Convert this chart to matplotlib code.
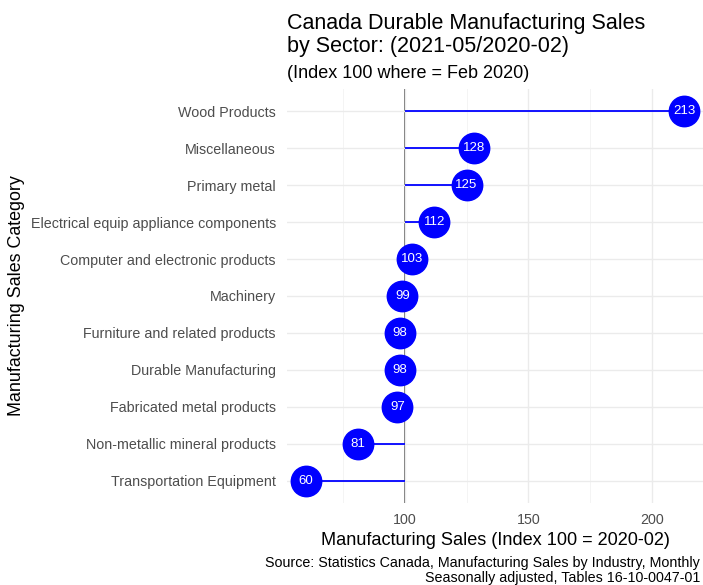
import matplotlib.pyplot as plt
import numpy as np

plt.rcParams['font.family'] = ['Liberation Sans', 'DejaVu Sans']

categories = ['Wood Products', 'Miscellaneous', 'Primary metal',
              'Electrical equip appliance components',
              'Computer and electronic products', 'Machinery',
              'Furniture and related products', 'Durable Manufacturing',
              'Fabricated metal products', 'Non-metallic mineral products',
              'Transportation Equipment']
values = [213, 128, 125, 112, 103, 99, 98, 98, 97, 81, 60]
base = 100

fig = plt.figure(figsize=(7.03, 5.85), dpi=100)
ax = fig.add_axes([287/703, 82/585, 416/703, 414/585])

n = len(categories)
ypos = np.arange(n)[::-1]

ax.set_xlim(52.35, 220.65)
ax.set_ylim(-0.6, n - 1 + 0.6)

for s in ax.spines.values():
    s.set_visible(False)
ax.set_xticks([100, 150, 200])
ax.set_xticks([75, 125, 175], minor=True)
ax.set_yticks(ypos)
ax.set_yticklabels(categories)
ax.grid(True, which='major', color='#EBEBEB', lw=1.0, zorder=0)
ax.grid(True, which='minor', axis='x', color='#F2F2F2', lw=0.6, zorder=0)
ax.tick_params(which='both', length=0, labelsize=10.3, labelcolor='#4D4D4D')
ax.tick_params(axis='y', pad=8)
ax.tick_params(axis='x', pad=7)

ax.axvline(base, color='#555555', lw=1.2, zorder=1)
ax.hlines(ypos, base, values, color='blue', lw=1.3, zorder=2)
ax.scatter(values, ypos, s=480, color='blue', zorder=3)
for v, y in zip(values, ypos):
    ax.text(v, y, str(v), color='white', fontsize=9.5, ha='center', va='center', zorder=4)

ax.set_xlabel('Manufacturing Sales (Index 100 = 2020-02)', fontsize=13.1, labelpad=4)
ax.set_ylabel('Manufacturing Sales Category', fontsize=12.9, labelpad=4)

fig.text(287/703, 1 - 13/585, 'Canada Durable Manufacturing Sales\nby Sector: (2021-05/2020-02)',
         fontsize=15.5, ha='left', va='top', linespacing=1.1)
fig.text(287/703, 1 - 65/585, '(Index 100 where = Feb 2020)', fontsize=13, ha='left', va='top')
fig.text(700/703, 1 - 556/585, 'Source: Statistics Canada, Manufacturing Sales by Industry, Monthly\nSeasonally adjusted, Tables 16-10-0047-01',
         fontsize=10.3, ha='right', va='top', linespacing=1.05)

fig.savefig('out.png', dpi=100)
